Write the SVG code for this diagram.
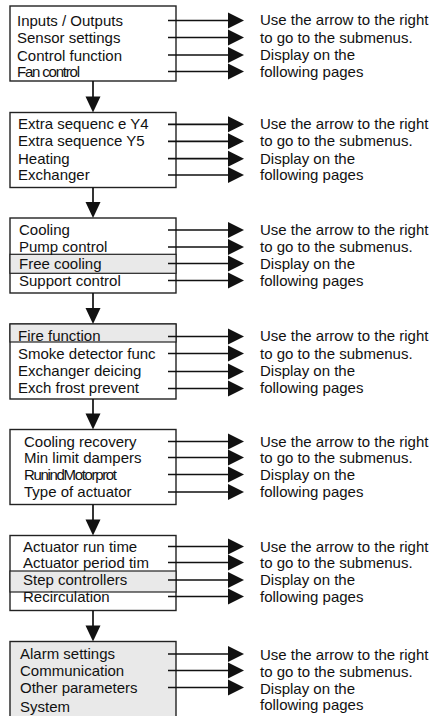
<svg xmlns="http://www.w3.org/2000/svg" width="432" height="716" viewBox="0 0 432 716">
<defs>
<style>
.box{fill:#fff;stroke:#222;stroke-width:1.4}
.grey{fill:#e9e9e9;stroke:#222;stroke-width:1.4}
.band{fill:#e9e9e9;stroke:#222;stroke-width:1.2}
.t{font-family:"Liberation Sans",Arial,sans-serif;font-size:15px;fill:#111}
.ln{stroke:#111;stroke-width:1.7;fill:none}
.hd{fill:#111;stroke:none}
</style>
<path id="rh" d="M0,-8 L16,0 L0,8 Z"/>
<path id="dn" d="M-7.5,0 L7.5,0 L0,16 Z"/>
</defs>

<g id="node1">
<rect class="box" x="10" y="6" width="166" height="75"/>
<text class="t" x="17" y="26">Inputs / Outputs</text>
<text class="t" x="17" y="43">Sensor settings</text>
<text class="t" x="17" y="60.5">Control function</text>
<text class="t" x="17" y="77" textLength="63" lengthAdjust="spacing">Fan control</text>
</g>
<g id="note1">
<text class="t" x="260" y="25">Use the arrow to the right</text>
<text class="t" x="260" y="42.5">to go to the submenus.</text>
<text class="t" x="260" y="60">Display on the</text>
<text class="t" x="260" y="77">following pages</text>
</g>

<g id="node2">
<rect class="box" x="10" y="112.5" width="166" height="75"/>
<text class="t" x="18" y="129">Extra sequenc e Y4</text>
<text class="t" x="18" y="146">Extra sequence Y5</text>
<text class="t" x="18" y="163.5">Heating</text>
<text class="t" x="18" y="180">Exchanger</text>
</g>
<g id="note2">
<text class="t" x="260" y="129">Use the arrow to the right</text>
<text class="t" x="260" y="146">to go to the submenus.</text>
<text class="t" x="260" y="163.5">Display on the</text>
<text class="t" x="260" y="180">following pages</text>
</g>

<g id="node3">
<rect class="box" x="10" y="218" width="166" height="75"/>
<rect class="band" x="10" y="254.3" width="166" height="19"/>
<text class="t" x="19" y="235">Cooling</text>
<text class="t" x="19" y="252">Pump control</text>
<text class="t" x="19" y="268.5">Free cooling</text>
<text class="t" x="19" y="285.5">Support control</text>
</g>
<g id="note3">
<text class="t" x="260" y="235">Use the arrow to the right</text>
<text class="t" x="260" y="252">to go to the submenus.</text>
<text class="t" x="260" y="268.5">Display on the</text>
<text class="t" x="260" y="285.5">following pages</text>
</g>

<g id="node4">
<rect class="box" x="10" y="324" width="166" height="75"/>
<rect class="band" x="10" y="324" width="166" height="18"/>
<text class="t" x="18" y="341">Fire function</text>
<text class="t" x="18" y="358.5">Smoke detector func</text>
<text class="t" x="18" y="376">Exchanger deicing</text>
<text class="t" x="18" y="393">Exch frost prevent</text>
</g>
<g id="note4">
<text class="t" x="260" y="341">Use the arrow to the right</text>
<text class="t" x="260" y="358.5">to go to the submenus.</text>
<text class="t" x="260" y="376">Display on the</text>
<text class="t" x="260" y="393">following pages</text>
</g>

<g id="node5">
<rect class="box" x="10" y="429.5" width="166" height="75"/>
<text class="t" x="24" y="446.5">Cooling recovery</text>
<text class="t" x="24" y="462.5">Min limit dampers</text>
<text class="t" x="24" y="479.5" textLength="93" lengthAdjust="spacing">RunindMotorprot</text>
<text class="t" x="24" y="497">Type of actuator</text>
</g>
<g id="note5">
<text class="t" x="260" y="446.5">Use the arrow to the right</text>
<text class="t" x="260" y="462.5">to go to the submenus.</text>
<text class="t" x="260" y="479.5">Display on the</text>
<text class="t" x="260" y="497">following pages</text>
</g>

<g id="node6">
<rect class="box" x="10" y="535.5" width="166" height="75"/>
<rect class="band" x="10" y="571" width="166" height="21"/>
<text class="t" x="23" y="551.5">Actuator run time</text>
<text class="t" x="23" y="567.5">Actuator period tim</text>
<text class="t" x="23" y="585">Step controllers</text>
<text class="t" x="23" y="601.5">Recirculation</text>
</g>
<g id="note6">
<text class="t" x="260" y="551.5">Use the arrow to the right</text>
<text class="t" x="260" y="567.5">to go to the submenus.</text>
<text class="t" x="260" y="585">Display on the</text>
<text class="t" x="260" y="601.5">following pages</text>
</g>

<g id="node7">
<rect class="grey" x="10" y="641.5" width="166" height="80"/>
<text class="t" x="20" y="659">Alarm settings</text>
<text class="t" x="20" y="675.5">Communication</text>
<text class="t" x="20" y="692.5">Other parameters</text>
<text class="t" x="20" y="711.5">System</text>
</g>
<g id="note7">
<text class="t" x="260" y="659.5">Use the arrow to the right</text>
<text class="t" x="260" y="676.5">to go to the submenus.</text>
<text class="t" x="260" y="693.5">Display on the</text>
<text class="t" x="260" y="710">following pages</text>
</g>

<g id="connectors">
<path class="ln" d="M168,20.5H229 M168,37.5H229 M168,55H229 M168,71.5H229
M168,124.3H229 M168,141.3H229 M168,158.7H229 M168,175H229
M168,230H229 M168,247H229 M168,263.5H229 M168,280.5H229
M168,336.5H229 M168,353.5H229 M168,371.5H229 M168,388.5H229
M168,441.5H229 M168,457.5H229 M168,474.5H229 M168,492H229
M168,546.5H229 M168,562.5H229 M168,580H229 M168,596.5H229
M168,654H229 M168,670.5H229 M168,687.5H229
M93,81V97 M93,187.5V203 M93,293V309 M93,399V414.5 M93,504.5V520.5 M93,610.5V626.5"/>
<g class="hd">
<use href="#rh" x="228" y="20.5"/><use href="#rh" x="228" y="37.5"/><use href="#rh" x="228" y="55"/><use href="#rh" x="228" y="71.5"/>
<use href="#rh" x="228" y="124.3"/><use href="#rh" x="228" y="141.3"/><use href="#rh" x="228" y="158.7"/><use href="#rh" x="228" y="175"/>
<use href="#rh" x="228" y="230"/><use href="#rh" x="228" y="247"/><use href="#rh" x="228" y="263.5"/><use href="#rh" x="228" y="280.5"/>
<use href="#rh" x="228" y="336.5"/><use href="#rh" x="228" y="353.5"/><use href="#rh" x="228" y="371.5"/><use href="#rh" x="228" y="388.5"/>
<use href="#rh" x="228" y="441.5"/><use href="#rh" x="228" y="457.5"/><use href="#rh" x="228" y="474.5"/><use href="#rh" x="228" y="492"/>
<use href="#rh" x="228" y="546.5"/><use href="#rh" x="228" y="562.5"/><use href="#rh" x="228" y="580"/><use href="#rh" x="228" y="596.5"/>
<use href="#rh" x="228" y="654"/><use href="#rh" x="228" y="670.5"/><use href="#rh" x="228" y="687.5"/>
<use href="#dn" x="93" y="96.5"/><use href="#dn" x="93" y="202"/><use href="#dn" x="93" y="308"/><use href="#dn" x="93" y="413.5"/><use href="#dn" x="93" y="519.5"/><use href="#dn" x="93" y="625.5"/>
</g>
</g>
</svg>
